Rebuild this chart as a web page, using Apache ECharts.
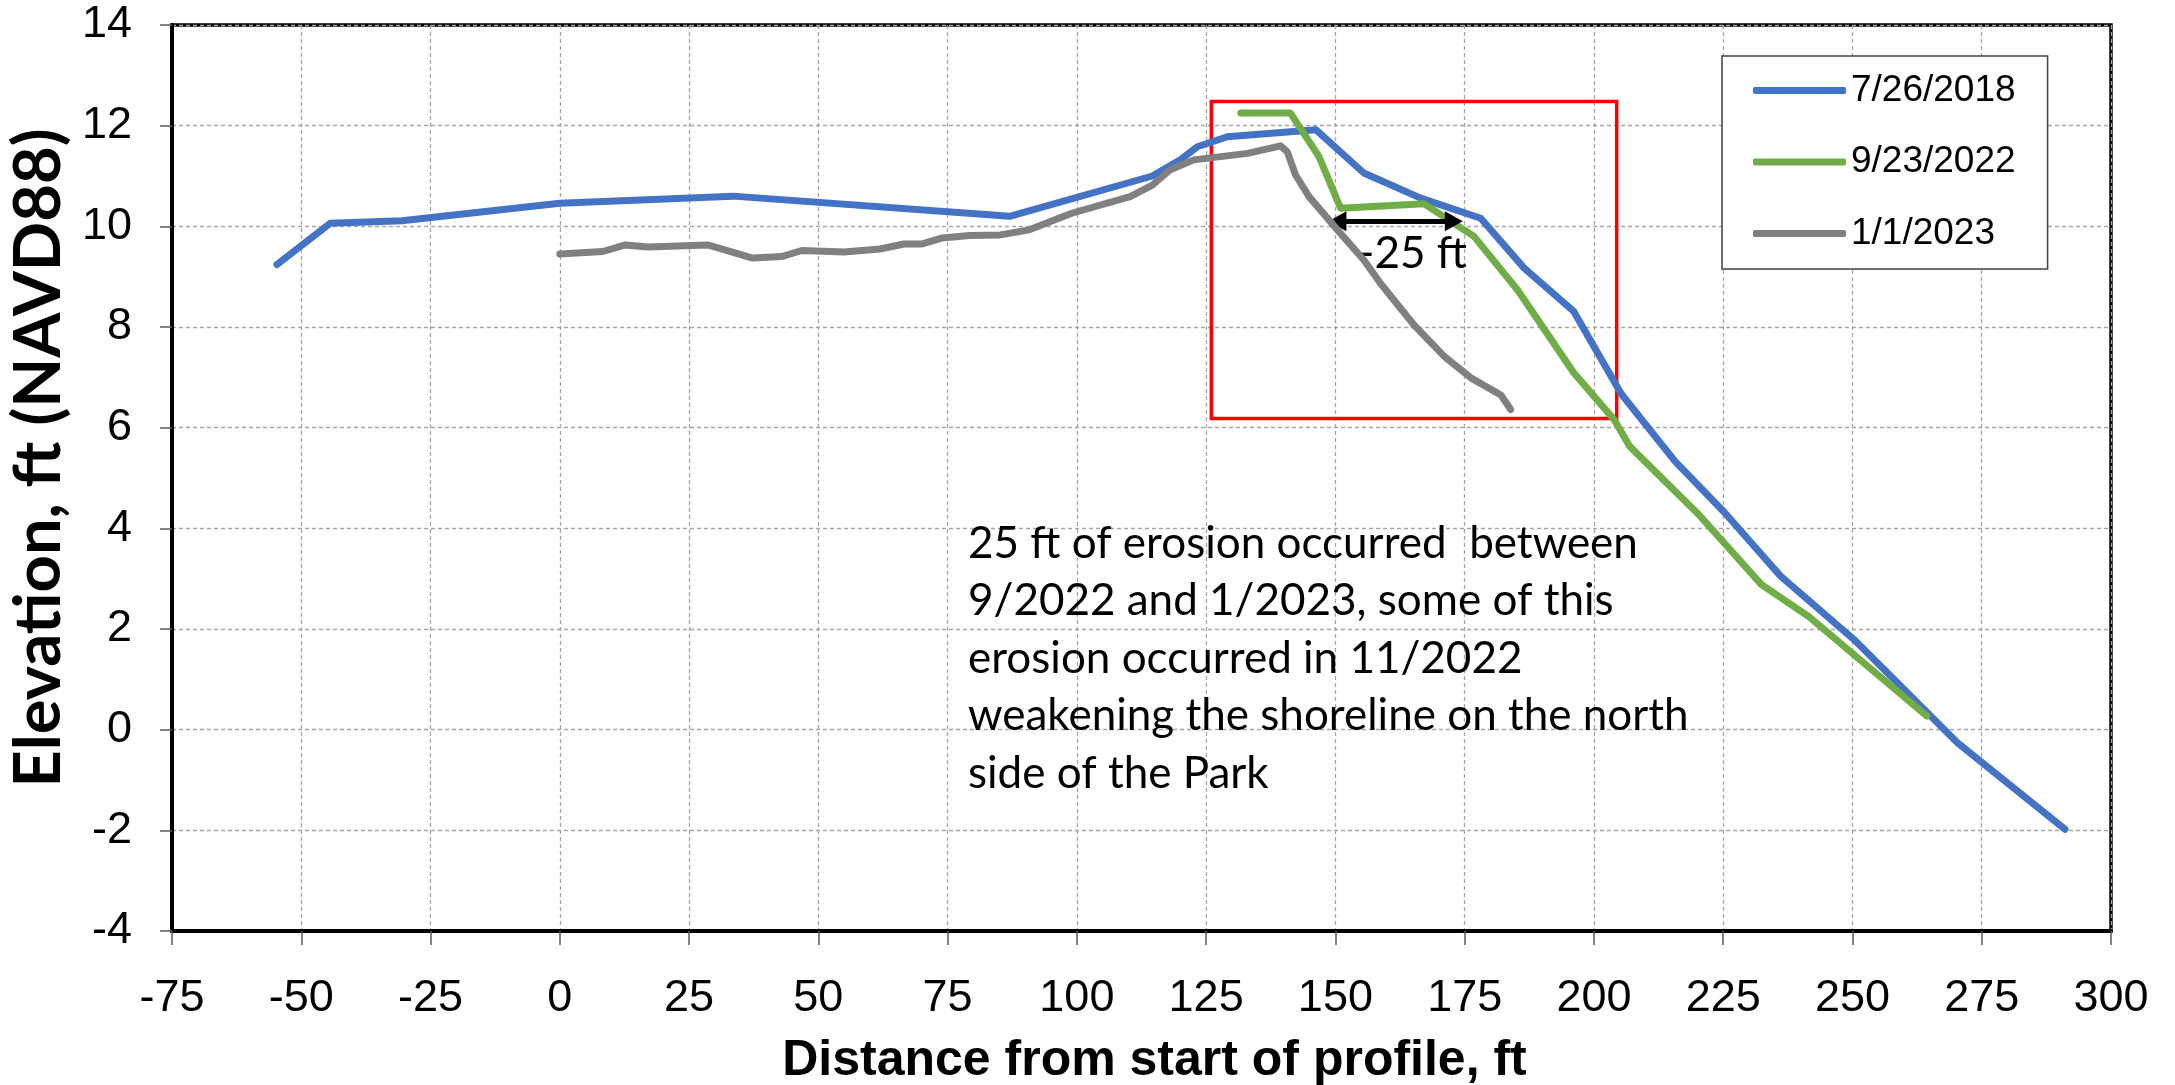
<!DOCTYPE html>
<html>
<head>
<meta charset="utf-8">
<script src="https://cdn.jsdelivr.net/npm/echarts@6/dist/echarts.min.js"></script>
<style>
html,body{margin:0;padding:0;background:#fff;}
#chart{width:2175px;height:1085px;}
</style>
</head>
<body>
<div id="chart"></div>
<script>
// ---- data ----
const seriesNames = ['7/26/2018', '9/23/2022', '1/1/2023'];
const seriesColors = ['#4472C4', '#70AD47', '#808080'];

const x2018 = [-54.7, -44.4, -30.5, 0, 33.5, 87, 114.6, 120, 123.3, 129.1, 146.2, 155.5, 166.5, 178.1, 186.5, 196.1, 205.3, 215.7, 225.3, 236.1, 250.3, 270.3, 291.1];
const y2018 = [9.24, 10.06, 10.11, 10.46, 10.6, 10.2, 11.0, 11.32, 11.58, 11.78, 11.92, 11.06, 10.56, 10.16, 9.17, 8.31, 6.67, 5.33, 4.31, 3.05, 1.79, -0.26, -1.98];

const x2022 = [131.7, 141.3, 146.8, 151.0, 167.1, 176.8, 185.2, 196.1, 203.9, 206.9, 220.3, 232.4, 241.5, 264.4];
const y2022 = [12.25, 12.25, 11.39, 10.36, 10.45, 9.80, 8.74, 7.09, 6.16, 5.63, 4.27, 2.88, 2.25, 0.27];

const x2023 = [0, 8.3, 12.7, 17.0, 28.6, 37.3, 42.9, 46.8, 55.0, 61.9, 66.6, 70.1, 74.0, 79.2, 85.2, 90.8, 99.0, 110.3, 114.6, 118.0, 122.6, 133.0, 139.4, 140.7, 142.3, 144.9, 150.4, 155.5, 158.7, 165.2, 171.0, 176.2, 182.0, 183.9];
const y2023 = [9.45, 9.50, 9.63, 9.59, 9.63, 9.37, 9.40, 9.52, 9.49, 9.55, 9.65, 9.65, 9.77, 9.82, 9.83, 9.93, 10.26, 10.59, 10.82, 11.12, 11.32, 11.45, 11.60, 11.48, 11.02, 10.59, 9.93, 9.33, 8.87, 8.04, 7.42, 6.99, 6.65, 6.36];

const xTicks = [-75, -50, -25, 0, 25, 50, 75, 100, 125, 150, 175, 200, 225, 250, 275, 300];
const yTicks = [-4, -2, 0, 2, 4, 6, 8, 10, 12, 14];

// highlight box (x1, y1, x2, y2) and erosion arrow
const boxCorners = [126.0, 12.48, 204.4, 6.18];
const arrowFrom = [150.4, 10.1];
const arrowTo = [172.9, 10.1];
const arrowLabelPos = [164.9, 9.45];
const arrowLabel = '-25 ft';
const noteLines = [
  '25 ft of erosion occurred  between',
  '9/2022 and 1/2023, some of this',
  'erosion occurred in 11/2022',
  'weakening the shoreline on the north',
  'side of the Park'
];
const xTitle = 'Distance from start of profile, ft';
const yTitle = 'Elevation, ft (NAVD88)';

// ---- build ----
function pairs(xs, ys) { return xs.map((v, i) => [v, ys[i]]); }
const allData = [pairs(x2018, y2018), pairs(x2022, y2022), pairs(x2023, y2023)];

const chart = echarts.init(document.getElementById('chart'), null, { renderer: 'canvas' });

const series = allData.map((d, i) => ({
  name: seriesNames[i],
  type: 'line',
  data: d,
  showSymbol: false,
  symbol: 'none',
  animation: false,
  lineStyle: { color: seriesColors[i], width: 7, cap: 'round', join: 'round' },
  itemStyle: { color: seriesColors[i] },
  z: 3 + i
}));

series.push({
  name: 'annot',
  type: 'line',
  data: [],
  animation: false,
  silent: true,
  z: 10,
  markArea: {
    silent: true,
    itemStyle: { color: 'rgba(0,0,0,0)', borderColor: '#FF0000', borderWidth: 3.5 },
    data: [[{ coord: [boxCorners[0], boxCorners[1]] }, { coord: [boxCorners[2], boxCorners[3]] }]]
  },
  markLine: {
    silent: true,
    symbol: ['triangle', 'triangle'],
    symbolSize: [20, 18],
    lineStyle: { color: '#000', width: 5, type: 'solid' },
    label: { show: false },
    data: [[{ coord: arrowFrom }, { coord: arrowTo }]]
  },
  markPoint: {
    silent: true,
    symbol: 'circle',
    symbolSize: 0,
    label: {
      show: true, position: 'inside', formatter: arrowLabel,
      fontFamily: 'Lato', fontSize: 44, color: '#000'
    },
    data: [{ coord: arrowLabelPos }]
  }
});

const tickFont = { fontFamily: 'Liberation Sans, Arial', fontSize: 45, color: '#000' };

const option = {
  animation: false,
  backgroundColor: '#fff',
  grid: { left: 172, right: 64, top: 25, bottom: 154, outerBoundsMode: 'none', containLabel: false, show: true, borderColor: '#000', borderWidth: 3.5, backgroundColor: 'transparent' },
  legend: {
    data: seriesNames,
    orient: 'vertical',
    left: 1722, top: 56,
    padding: [16, 32, 17, 31],
    icon: 'roundRect',
    itemWidth: 93, itemHeight: 7, itemGap: 34.5,
    backgroundColor: '#fff',
    borderColor: '#404040', borderWidth: 1.5, borderRadius: 0,
    textStyle: { fontFamily: 'Liberation Sans, Arial', fontSize: 37, color: '#000', lineHeight: 30 }
  },
  xAxis: {
    type: 'value', min: -75, max: 300, interval: 25,
    name: xTitle, nameLocation: 'middle', nameGap: 110,
    nameTextStyle: { fontFamily: 'Liberation Sans, Arial', fontWeight: 'bold', fontSize: 50, color: '#000', lineHeight: 40, padding: [0, 0, 0, 26] },
    axisLine: { show: true, onZero: false, lineStyle: { color: '#000', width: 4 } },
    axisTick: { show: true, inside: false, length: 14, lineStyle: { color: '#595959', width: 1.5 } },
    axisLabel: Object.assign({ margin: 45, formatter: v => xTicks.includes(v) ? String(v) : '' }, tickFont),
    splitLine: { show: true, lineStyle: { color: '#a6a6a6', width: 1.3, type: [4, 3] } }
  },
  yAxis: {
    type: 'value', min: -4, max: 14, interval: 2,
    axisLine: { show: true, onZero: false, lineStyle: { color: '#000', width: 4 } },
    axisTick: { show: true, inside: false, length: 12, lineStyle: { color: '#595959', width: 1.5 } },
    axisLabel: Object.assign({ margin: 40, formatter: v => yTicks.includes(v) ? String(v) : '' }, tickFont),
    splitLine: { show: true, lineStyle: { color: '#a6a6a6', width: 1.3, type: [4, 3] } }
  },
  graphic: [{
    type: 'text',
    left: 968, top: 515,
    z: 20,
    style: {
      text: noteLines.join('\n'),
      font: '44px Lato',
      fill: '#000',
      lineHeight: 57.5
    }
  }, {
    type: 'text',
    x: 39, y: 458,
    rotation: Math.PI / 2,
    z: 20,
    style: {
      text: yTitle,
      font: 'bold 65px Lato',
      fill: '#000',
      align: 'center',
      verticalAlign: 'middle'
    }
  }],
  series: series
};

chart.setOption(option);
</script>
</body>
</html>
